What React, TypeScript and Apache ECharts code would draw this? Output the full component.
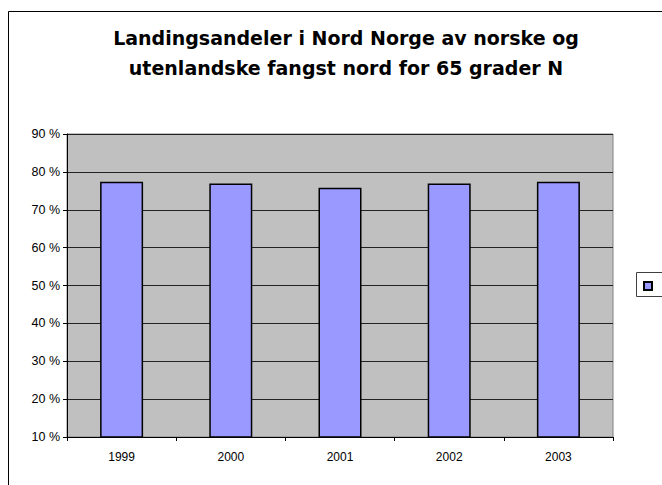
import React, { useEffect, useRef } from "react";
import * as echarts from "echarts";

const categories = ["1999", "2000", "2001", "2002", "2003"];
const shares = [77.4, 76.9, 75.8, 76.9, 77.4];
const titleLines = [
  "Landingsandeler i Nord Norge av norske og",
  "utenlandske fangst nord for 65 grader N",
];

export default function App() {
  const ref = useRef<HTMLDivElement>(null);
  useEffect(() => {
    const chart = echarts.init(ref.current!, null, { renderer: "svg" });
    const font = "Liberation Sans, Arial, sans-serif";
    chart.setOption({
      animation: false,
      backgroundColor: "#ffffff",
      title: {
        text: titleLines.join("\n"),
        left: 341,
        top: 18,
        textAlign: "center",
        textStyle: {
          fontFamily: "DejaVu Sans, sans-serif",
          fontSize: 19,
          fontWeight: "bold",
          color: "#000",
          lineHeight: 30,
        },
      },
      legend: {
        show: true,
        left: 643,
        top: 281,
        padding: 0,
        itemWidth: 8,
        itemHeight: 8,
        icon: "rect",
        data: [" "],
        textStyle: { fontSize: 1 },
        selectedMode: false,
      },
      grid: {
        left: 67,
        right: 49,
        top: 134,
        bottom: 48,
        show: true,
        backgroundColor: "#c0c0c0",
        borderColor: "#808080",
        borderWidth: 1,
      },
      xAxis: {
        type: "category",
        data: categories,
        axisLine: { lineStyle: { color: "#000", width: 1 } },
        axisTick: { show: true, length: 4, lineStyle: { color: "#000" } },
        axisLabel: {
          fontFamily: font,
          fontSize: 12,
          color: "#000",
          margin: 14,
        },
      },
      yAxis: {
        type: "value",
        min: 10,
        max: 90,
        interval: 10,
        axisLine: { show: true, lineStyle: { color: "#000", width: 1 } },
        axisTick: { show: true, length: 4, lineStyle: { color: "#000" } },
        axisLabel: {
          fontFamily: font,
          fontSize: 12.5,
          color: "#000",
          margin: 7,
          formatter: "{value} %",
        },
        splitLine: { show: true, lineStyle: { color: "#222", width: 1 } },
      },
      series: [
        {
          name: " ",
          type: "bar",
          data: shares,
          barWidth: 43,
          itemStyle: {
            color: "#9999ff",
            borderColor: "#000",
            borderWidth: 1.5,
          },
        },
      ],
      graphic: [
        {
          type: "rect",
          shape: { x: 8.5, y: 11.5, width: 700, height: 500 },
          style: { fill: "none", stroke: "#000", lineWidth: 1 },
          silent: true,
        },
        {
          type: "rect",
          shape: { x: 636.5, y: 272.5, width: 60, height: 24 },
          style: { fill: "#fff", stroke: "#404040", lineWidth: 1 },
          silent: true,
          z: -1,
        },
      ],
    });
    return () => chart.dispose();
  }, []);
  return (
    <div
      ref={ref}
      style={{ position: "fixed", left: 0, top: 0, width: 662, height: 485 }}
    />
  );
}
